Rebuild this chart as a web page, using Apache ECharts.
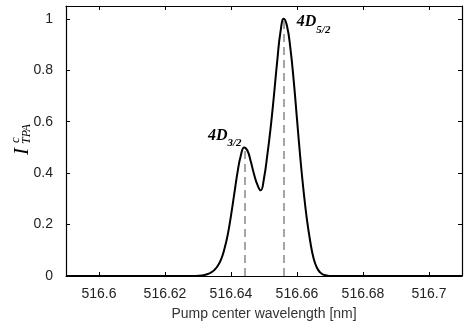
<!DOCTYPE html>
<html>
<head>
<meta charset="utf-8">
<script src="https://cdn.jsdelivr.net/npm/echarts@6/dist/echarts.min.js"></script>
<style>
html,body{margin:0;padding:0;background:#fff;}
#c{width:469px;height:324px;}
</style>
</head>
<body>
<div id="c"></div>
<script>
// Data
const wavelengths = [516.590, 516.610, 516.628, 516.629, 516.630, 516.631, 516.632, 516.633, 516.634, 516.635, 516.636, 516.637, 516.638, 516.639, 516.640, 516.641, 516.642, 516.643, 516.644, 516.645, 516.646, 516.647, 516.648, 516.649, 516.650, 516.651, 516.652, 516.653, 516.654, 516.655, 516.656, 516.657, 516.658, 516.659, 516.660, 516.661, 516.662, 516.663, 516.664, 516.665, 516.666, 516.667, 516.668, 516.669, 516.670, 516.671, 516.690, 516.710];
const intensities = [0, 0, 0, 0, 0.001, 0.002, 0.004, 0.008, 0.014, 0.024, 0.040, 0.065, 0.105, 0.160, 0.235, 0.32, 0.405, 0.47, 0.50, 0.487, 0.445, 0.395, 0.355, 0.333, 0.38, 0.47, 0.575, 0.70, 0.835, 0.95, 1.0, 0.97, 0.885, 0.76, 0.61, 0.46, 0.33, 0.22, 0.135, 0.07, 0.033, 0.014, 0.005, 0.002, 0, 0, 0, 0];
const peakWavelengths = [516.6441, 516.656];
const peakValues = [0.50, 1.0];
const peakNames = ['3/2', '5/2'];
const xTickValues = [516.6, 516.62, 516.64, 516.66, 516.68, 516.7];
const xTickLabels = ['516.6', '516.62', '516.64', '516.66', '516.68', '516.7'];
const yTickValues = [0, 0.2, 0.4, 0.6, 0.8, 1];
const yTickLabels = ['0', '0.2', '0.4', '0.6', '0.8', '1'];

const XMIN = 516.59, XMAX = 516.71, YMIN = 0, YMAX = 1.05;

function labelFor(values, labels) {
  return function (v) {
    let best = 0, bd = Infinity;
    values.forEach((t, i) => { const d = Math.abs(t - v); if (d < bd) { bd = d; best = i; } });
    return labels[best];
  };
}

const chart = echarts.init(document.getElementById('c'), null, {renderer: 'canvas'});
const axisLineStyle = {color: '#000', width: 1.2};
const tickStyle = {color: '#000', width: 1};

const curve = wavelengths.map((w, i) => [w, intensities[i]]);

const markLineData = peakWavelengths.map((w, i) => [
  {coord: [w, 0]},
  {coord: [w, peakValues[i]]}
]);

const labelCfg = [
  {align: 'right', verticalAlign: 'bottom', offset: [-3, -3]},
  {align: 'left', verticalAlign: 'top', offset: [13, -6]}
];

const markPointData = peakWavelengths.map((w, i) => ({
  coord: [w, peakValues[i]],
  symbol: 'circle',
  symbolSize: 0,
  label: {
    show: true,
    position: [0, 0],
    align: labelCfg[i].align,
    verticalAlign: labelCfg[i].verticalAlign,
    offset: labelCfg[i].offset,
    formatter: '{a|4D}{b|' + peakNames[i] + '}',
    rich: {
      a: {fontFamily: 'Liberation Serif', fontStyle: 'italic', fontWeight: 'bold', fontSize: 16, color: '#000', lineHeight: 18},
      b: {fontFamily: 'Liberation Serif', fontStyle: 'italic', fontWeight: 'bold', fontSize: 11, color: '#000', lineHeight: 11, padding: [16, 0, 0, 0]}
    }
  }
}));

chart.setOption({
  animation: false,
  backgroundColor: '#fff',
  grid: {left: 66, right: 7, top: 6, bottom: 48, containLabel: false, outerBoundsMode: 'none'},
  xAxis: [{
    type: 'value', min: XMIN, max: XMAX, position: 'bottom',
    name: 'Pump center wavelength [nm]', nameLocation: 'middle', nameGap: 31,
    nameTextStyle: {fontFamily: 'Liberation Sans', fontSize: 14, color: '#333'},
    axisLine: {show: true, onZero: false, lineStyle: axisLineStyle},
    axisTick: {show: true, inside: true, length: 4, lineStyle: tickStyle, customValues: xTickValues},
    axisLabel: {show: true, margin: 11, fontFamily: 'Liberation Sans', fontSize: 14, color: '#222', customValues: xTickValues, formatter: labelFor(xTickValues, xTickLabels)},
    splitLine: {show: false}
  }, {
    type: 'value', min: XMIN, max: XMAX, position: 'top',
    axisLine: {show: true, onZero: false, lineStyle: axisLineStyle},
    axisTick: {show: true, inside: true, length: 4, lineStyle: tickStyle, customValues: xTickValues},
    axisLabel: {show: false},
    splitLine: {show: false}
  }],
  yAxis: [{
    type: 'value', min: YMIN, max: YMAX, position: 'left',
    axisLine: {show: true, onZero: false, lineStyle: axisLineStyle},
    axisTick: {show: true, inside: true, length: 4, lineStyle: tickStyle, customValues: yTickValues},
    axisLabel: {show: true, margin: 13, fontFamily: 'Liberation Sans', fontSize: 14, color: '#222', customValues: yTickValues, formatter: labelFor(yTickValues, yTickLabels)},
    splitLine: {show: false}
  }, {
    type: 'value', min: YMIN, max: YMAX, position: 'right',
    axisLine: {show: true, onZero: false, lineStyle: axisLineStyle},
    axisTick: {show: true, inside: true, length: 4, lineStyle: tickStyle, customValues: yTickValues},
    axisLabel: {show: false},
    splitLine: {show: false}
  }],
  graphic: [{
    type: 'group',
    x: 22, y: 139,
    rotation: Math.PI / 2,
    children: [
      {type: 'text', x: -16, y: 0, style: {text: 'I', fontFamily: 'Liberation Serif', fontStyle: 'italic', fontSize: 21, fill: '#000', align: 'left', verticalAlign: 'middle'}},
      {type: 'text', x: -4, y: -6, style: {text: 'c', fontFamily: 'Liberation Serif', fontStyle: 'italic', fontSize: 13, fill: '#000', align: 'left', verticalAlign: 'middle'}},
      {type: 'text', x: -5, y: 5, style: {text: 'TPA', fontFamily: 'Liberation Serif', fontStyle: 'italic', fontSize: 12, fill: '#000', align: 'left', verticalAlign: 'middle'}}
    ]
  }],
  series: [{
    type: 'line',
    xAxisIndex: 0, yAxisIndex: 0,
    data: curve,
    smooth: true,
    showSymbol: false,
    symbol: 'none',
    lineStyle: {color: '#000', width: 2},
    z: 3,
    markLine: {
      silent: true,
      symbol: ['none', 'none'],
      label: {show: false},
      lineStyle: {color: '#888', width: 1.5, type: [8, 5]},
      data: markLineData,
      z: 2
    },
    markPoint: {
      silent: true,
      data: markPointData
    }
  }]
});
</script>
</body>
</html>
